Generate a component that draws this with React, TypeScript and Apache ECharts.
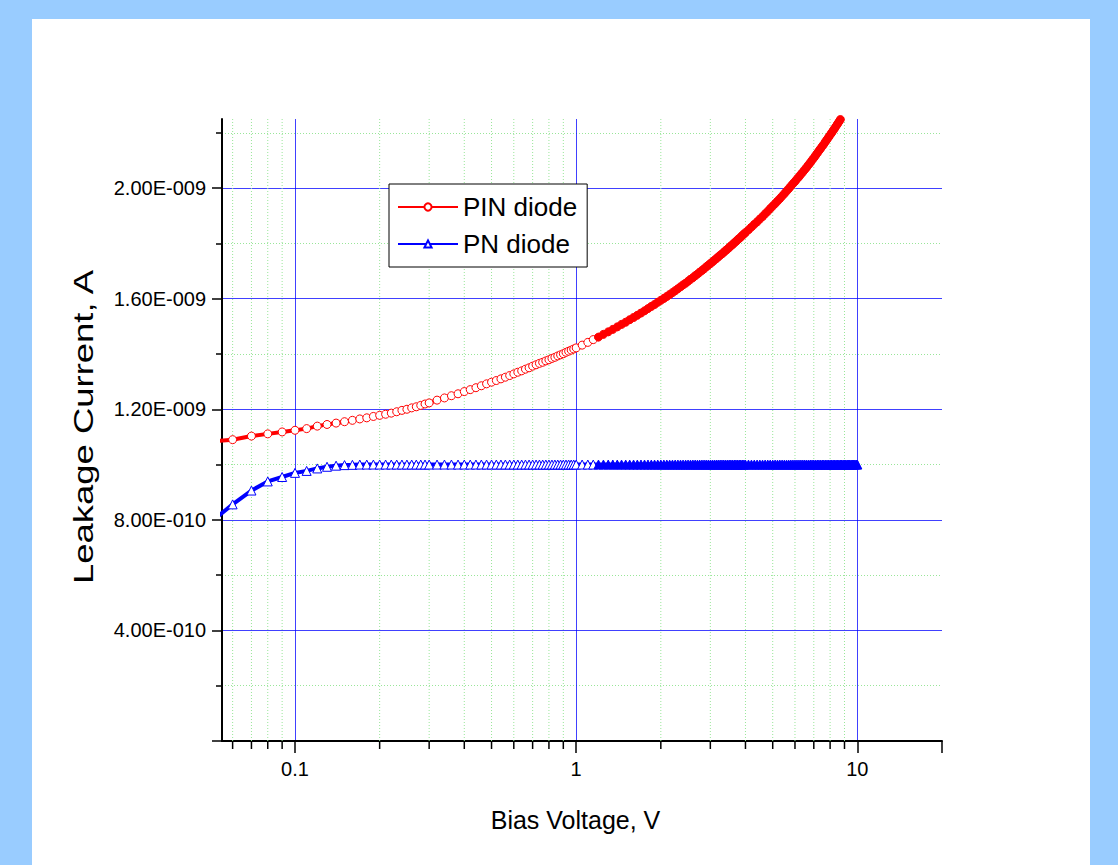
import React, { useEffect, useRef } from "react";
import * as echarts from "echarts";

// Bias voltage (V) sample points
const voltage = [
  // 0.05 .. 0.30
  0.05, 0.06, 0.07, 0.08, 0.09, 0.10, 0.11, 0.12, 0.13, 0.14, 0.15, 0.16, 0.17,
  0.18, 0.19, 0.20, 0.21, 0.22, 0.23, 0.24, 0.25, 0.26, 0.27, 0.28, 0.29, 0.30,
  // 0.32 .. 1.00
  0.32, 0.34, 0.36, 0.38, 0.40, 0.42, 0.44, 0.46, 0.48, 0.50,
  0.52, 0.54, 0.56, 0.58, 0.60, 0.62, 0.64, 0.66, 0.68, 0.70,
  0.72, 0.74, 0.76, 0.78, 0.80, 0.82, 0.84, 0.86, 0.88, 0.90,
  0.92, 0.94, 0.96, 0.98, 1.00,
  // 1.05 .. 2.00
  1.05, 1.10, 1.15, 1.20, 1.25, 1.30, 1.35, 1.40, 1.45, 1.50,
  1.55, 1.60, 1.65, 1.70, 1.75, 1.80, 1.85, 1.90, 1.95, 2.00,
  // 2.05 .. 4.00
  2.05, 2.10, 2.15, 2.20, 2.25, 2.30, 2.35, 2.40, 2.45, 2.50,
  2.55, 2.60, 2.65, 2.70, 2.75, 2.80, 2.85, 2.90, 2.95, 3.00,
  3.05, 3.10, 3.15, 3.20, 3.25, 3.30, 3.35, 3.40, 3.45, 3.50,
  3.55, 3.60, 3.65, 3.70, 3.75, 3.80, 3.85, 3.90, 3.95, 4.00,
  // 4.1 .. 9.0
  4.1, 4.2, 4.3, 4.4, 4.5, 4.6, 4.7, 4.8, 4.9, 5.0,
  5.1, 5.2, 5.3, 5.4, 5.5, 5.6, 5.7, 5.8, 5.9, 6.0,
  6.1, 6.2, 6.3, 6.4, 6.5, 6.6, 6.7, 6.8, 6.9, 7.0,
  7.1, 7.2, 7.3, 7.4, 7.5, 7.6, 7.7, 7.8, 7.9, 8.0,
  8.1, 8.2, 8.3, 8.4, 8.5, 8.6, 8.7, 8.8, 8.9, 9.0,
  // 9.1 .. 10.0
  9.1, 9.2, 9.3, 9.4, 9.5, 9.6, 9.7, 9.8, 9.9, 10.0,
];

// PIN diode leakage current, in units of 1E-009 A (same index as voltage)
const pinCurrent = [
  1.083, 1.090, 1.103, 1.111, 1.118, 1.124, 1.130, 1.139, 1.145, 1.150, 1.155, 1.160, 1.165,
  1.169, 1.174, 1.178, 1.182, 1.186, 1.191, 1.196, 1.200, 1.205, 1.209, 1.214, 1.219, 1.223,
  1.233, 1.241, 1.249, 1.256, 1.264, 1.271, 1.278, 1.285, 1.292, 1.298,
  1.304, 1.310, 1.316, 1.322, 1.328, 1.334, 1.339, 1.345, 1.350, 1.356,
  1.361, 1.366, 1.370, 1.375, 1.379, 1.384, 1.388, 1.393, 1.397, 1.401,
  1.406, 1.410, 1.414, 1.418, 1.422,
  1.432, 1.442, 1.452, 1.461, 1.471, 1.480, 1.489, 1.498, 1.507, 1.515,
  1.524, 1.532, 1.540, 1.548, 1.556, 1.564, 1.572, 1.579, 1.587, 1.594,
  1.601, 1.608, 1.615, 1.622, 1.629, 1.636, 1.643, 1.650, 1.656, 1.663,
  1.670, 1.676, 1.683, 1.689, 1.696, 1.702, 1.708, 1.715, 1.721, 1.727,
  1.733, 1.739, 1.745, 1.751, 1.757, 1.762, 1.768, 1.774, 1.779, 1.785,
  1.791, 1.796, 1.802, 1.807, 1.813, 1.818, 1.823, 1.829, 1.834, 1.839,
  1.849, 1.859, 1.869, 1.878, 1.888, 1.897, 1.907, 1.916, 1.926, 1.935,
  1.944, 1.953, 1.962, 1.971, 1.980, 1.989, 1.998, 2.007, 2.016, 2.024,
  2.033, 2.041, 2.050, 2.058, 2.067, 2.075, 2.084, 2.092, 2.101, 2.109,
  2.118, 2.126, 2.135, 2.143, 2.151, 2.159, 2.168, 2.176, 2.184, 2.192,
  2.200, 2.208, 2.216, 2.224, 2.232, 2.240, 2.248, 2.256, 2.264, 2.272,
];

// PN diode leakage current, in units of 1E-009 A (same index as voltage)
const pnCurrent = [
  0.790, 0.856, 0.906, 0.939, 0.955, 0.970, 0.977, 0.986, 0.992, 0.996, 0.998, 0.999, 1.000,
  1.000, 1.000, 1.000, 1.000, 1.000, 1.000, 1.000, 1.000, 1.000, 1.000, 1.000, 1.000, 1.000,
  1.000, 1.000, 1.000, 1.000, 1.000, 1.000, 1.000, 1.000, 1.000, 1.000,
  1.000, 1.000, 1.000, 1.000, 1.000, 1.000, 1.000, 1.000, 1.000, 1.000,
  1.000, 1.000, 1.000, 1.000, 1.000, 1.000, 1.000, 1.000, 1.000, 1.000,
  1.000, 1.000, 1.000, 1.000, 1.000,
  1.000, 1.000, 1.000, 1.000, 1.000, 1.000, 1.000, 1.000, 1.000, 1.000,
  1.000, 1.000, 1.000, 1.000, 1.000, 1.000, 1.000, 1.000, 1.000, 1.000,
  1.000, 1.000, 1.000, 1.000, 1.000, 1.000, 1.000, 1.000, 1.000, 1.000,
  1.000, 1.000, 1.000, 1.000, 1.000, 1.000, 1.000, 1.000, 1.000, 1.000,
  1.000, 1.000, 1.000, 1.000, 1.000, 1.000, 1.000, 1.000, 1.000, 1.000,
  1.000, 1.000, 1.000, 1.000, 1.000, 1.000, 1.000, 1.000, 1.000, 1.000,
  1.000, 1.000, 1.000, 1.000, 1.000, 1.000, 1.000, 1.000, 1.000, 1.000,
  1.000, 1.000, 1.000, 1.000, 1.000, 1.000, 1.000, 1.000, 1.000, 1.000,
  1.000, 1.000, 1.000, 1.000, 1.000, 1.000, 1.000, 1.000, 1.000, 1.000,
  1.000, 1.000, 1.000, 1.000, 1.000, 1.000, 1.000, 1.000, 1.000, 1.000,
  1.000, 1.000, 1.000, 1.000, 1.000, 1.000, 1.000, 1.000, 1.000, 1.000,
  1.000, 1.000, 1.000, 1.000, 1.000, 1.000, 1.000, 1.000, 1.000, 1.000,
];

const seriesNames = ["PIN diode", "PN diode"];
const PIN_COLOR = "#ff0000";
const PN_COLOR = "#0000ff";

// Axis extents and ticks (y in units of 1E-009 A)
const xMin = 0.055;
const xMax = 20;
const xTickValues = [0.1, 1, 10, 20];
const xLabelValues = [0.1, 1, 10];
const xMinorTicks = [
  0.06, 0.07, 0.08, 0.09, 0.2, 0.3, 0.4, 0.5, 0.6, 0.7, 0.8, 0.9, 2, 3, 4, 5, 6, 7, 8, 9,
];
const yMin = 0;
const yMax = 2.25;
const yInterval = 0.4;
const yTickValues = [0, 0.4, 0.8, 1.2, 1.6, 2.0];
const yLabelValues = [0.4, 0.8, 1.2, 1.6, 2.0];

const SANS = '"Liberation Sans", Arial, Helvetica, sans-serif';
// beyond this voltage the overplotted hollow markers merge into a solid band
const SOLID_BAND_FROM = 1.2;

function formatAmp(v: number): string {
  const a = v * 1e-9;
  if (a === 0) return "0";
  const exp = Math.floor(Math.log10(a) + 1e-9);
  const m = a / Math.pow(10, exp);
  const sign = exp < 0 ? "-" : "+";
  return m.toFixed(2) + "E" + sign + String(Math.abs(exp)).padStart(3, "0");
}

function buildPoints(values: number[], color: string) {
  return values.map((c, i) => ({
    value: [voltage[i], c],
    itemStyle: { color: voltage[i] >= SOLID_BAND_FROM ? color : "#ffffff" },
  }));
}

export default function App() {
  const ref = useRef<HTMLDivElement>(null);

  useEffect(() => {
    if (!ref.current) return;
    const chart = echarts.init(ref.current, null, { renderer: "svg" });

    const option: any = {
      animation: false,
      backgroundColor: "transparent",
      textStyle: { fontFamily: SANS },
      grid: { left: 222, top: 119, width: 720, height: 622, show: false },
      legend: {
        data: seriesNames,
        orient: "vertical",
        left: 389,
        top: 184,
        padding: [10, 10, 10, 8],
        itemGap: 11,
        itemWidth: 60,
        itemHeight: 9,
        backgroundColor: "#ffffff",
        borderColor: "#000000",
        borderWidth: 1,
        borderRadius: 0,
        selectedMode: false,
        textStyle: { fontSize: 26, color: "#000000", fontFamily: SANS },
      },
      graphic: [
        {
          type: "text",
          x: 84,
          y: 427,
          rotation: Math.PI / 2,
          scaleX: 1.35,
          silent: true,
          style: {
            text: "Leakage Current, A",
            fontSize: 27,
            fontFamily: SANS,
            fill: "#000000",
            align: "center",
            verticalAlign: "middle",
          },
        },
      ],
      xAxis: {
        type: "log",
        logBase: 10,
        min: xMin,
        max: xMax,
        name: "Bias Voltage, V",
        nameLocation: "middle",
        nameGap: 66,
        nameTextStyle: {
          fontSize: 25,
          fontFamily: SANS,
          color: "#000000",
          padding: [0, 13, 0, 0],
        },
        axisLine: { show: true, onZero: false, lineStyle: { color: "#000000", width: 2 } },
        axisTick: {
          show: true,
          inside: false,
          length: 12,
          customValues: xTickValues,
          lineStyle: { color: "#000000", width: 1.5 },
        },
        minorTick: { show: false },
        axisLabel: {
          margin: 18,
          fontSize: 20,
          fontFamily: SANS,
          color: "#000000",
          customValues: xLabelValues,
          formatter: (v: number) => String(parseFloat(Number(v).toPrecision(6))),
        },
        splitLine: {
          show: true,
          showMinLine: true,
          showMaxLine: false,
          lineStyle: { color: "#0000ff", width: 1, opacity: 0.75 },
        },
      },
      yAxis: {
        type: "value",
        min: yMin,
        max: yMax,
        interval: yInterval,
        axisLine: { show: true, onZero: false, lineStyle: { color: "#000000", width: 2 } },
        axisTick: {
          show: true,
          inside: false,
          length: 10,
          customValues: yTickValues,
          lineStyle: { color: "#000000", width: 1.5 },
        },
        minorTick: { show: true, splitNumber: 2, length: 6, lineStyle: { color: "#000000", width: 1.5 } },
        minorSplitLine: { show: true, lineStyle: { color: "#99e699", width: 1, type: [1, 2] } },
        axisLabel: {
          margin: 16,
          fontSize: 20,
          fontFamily: SANS,
          color: "#000000",
          customValues: yLabelValues,
          formatter: (v: number) => formatAmp(v),
        },
        splitLine: {
          show: true,
          showMinLine: false,
          showMaxLine: true,
          lineStyle: { color: "#0000ff", width: 1, opacity: 0.75 },
        },
      },
      series: [
        {
          type: "custom",
          name: "minorGrid",
          coordinateSystem: "cartesian2d",
          silent: true,
          clip: false,
          z: 1,
          data: xMinorTicks.map((v) => [v, yMin]),
          renderItem: (params: any, api: any) => {
            const v = api.value(0);
            const top = api.coord([v, yMax]);
            const bottom = api.coord([v, yMin]);
            return {
              type: "group",
              children: [
                {
                  type: "line",
                  shape: { x1: top[0], y1: top[1], x2: bottom[0], y2: bottom[1] },
                  style: { stroke: "#99e699", lineWidth: 1, lineDash: [1, 2] },
                },
                {
                  type: "line",
                  shape: { x1: bottom[0], y1: bottom[1], x2: bottom[0], y2: bottom[1] + 8 },
                  style: { stroke: "#000000", lineWidth: 1.5 },
                },
              ],
            };
          },
        },
        {
          name: seriesNames[0],
          type: "line",
          data: buildPoints(pinCurrent, PIN_COLOR),
          symbol: "circle",
          symbolSize: 8,
          showAllSymbol: true,
          z: 3,
          lineStyle: { color: PIN_COLOR, width: 4 },
          itemStyle: { color: "#ffffff", borderColor: PIN_COLOR, borderWidth: 1 },
          emphasis: { disabled: true },
        },
        {
          name: seriesNames[1],
          type: "line",
          data: buildPoints(pnCurrent, PN_COLOR),
          symbol: "triangle",
          symbolSize: 9,
          showAllSymbol: true,
          z: 3,
          lineStyle: { color: PN_COLOR, width: 4 },
          itemStyle: { color: "#ffffff", borderColor: PN_COLOR, borderWidth: 1 },
          emphasis: { disabled: true },
        },
      ],
    };

    chart.setOption(option);
    return () => {
      chart.dispose();
    };
  }, []);

  return (
    <div
      style={{
        position: "fixed",
        left: 0,
        top: 0,
        width: 1118,
        height: 865,
        background: "#99ccff",
        overflow: "hidden",
      }}
    >
      <div
        style={{
          position: "absolute",
          left: 32,
          top: 19,
          width: 1058,
          height: 846,
          background: "#ffffff",
        }}
      />
      <div ref={ref} style={{ position: "absolute", left: 0, top: 0, width: 1118, height: 865 }} />
    </div>
  );
}
